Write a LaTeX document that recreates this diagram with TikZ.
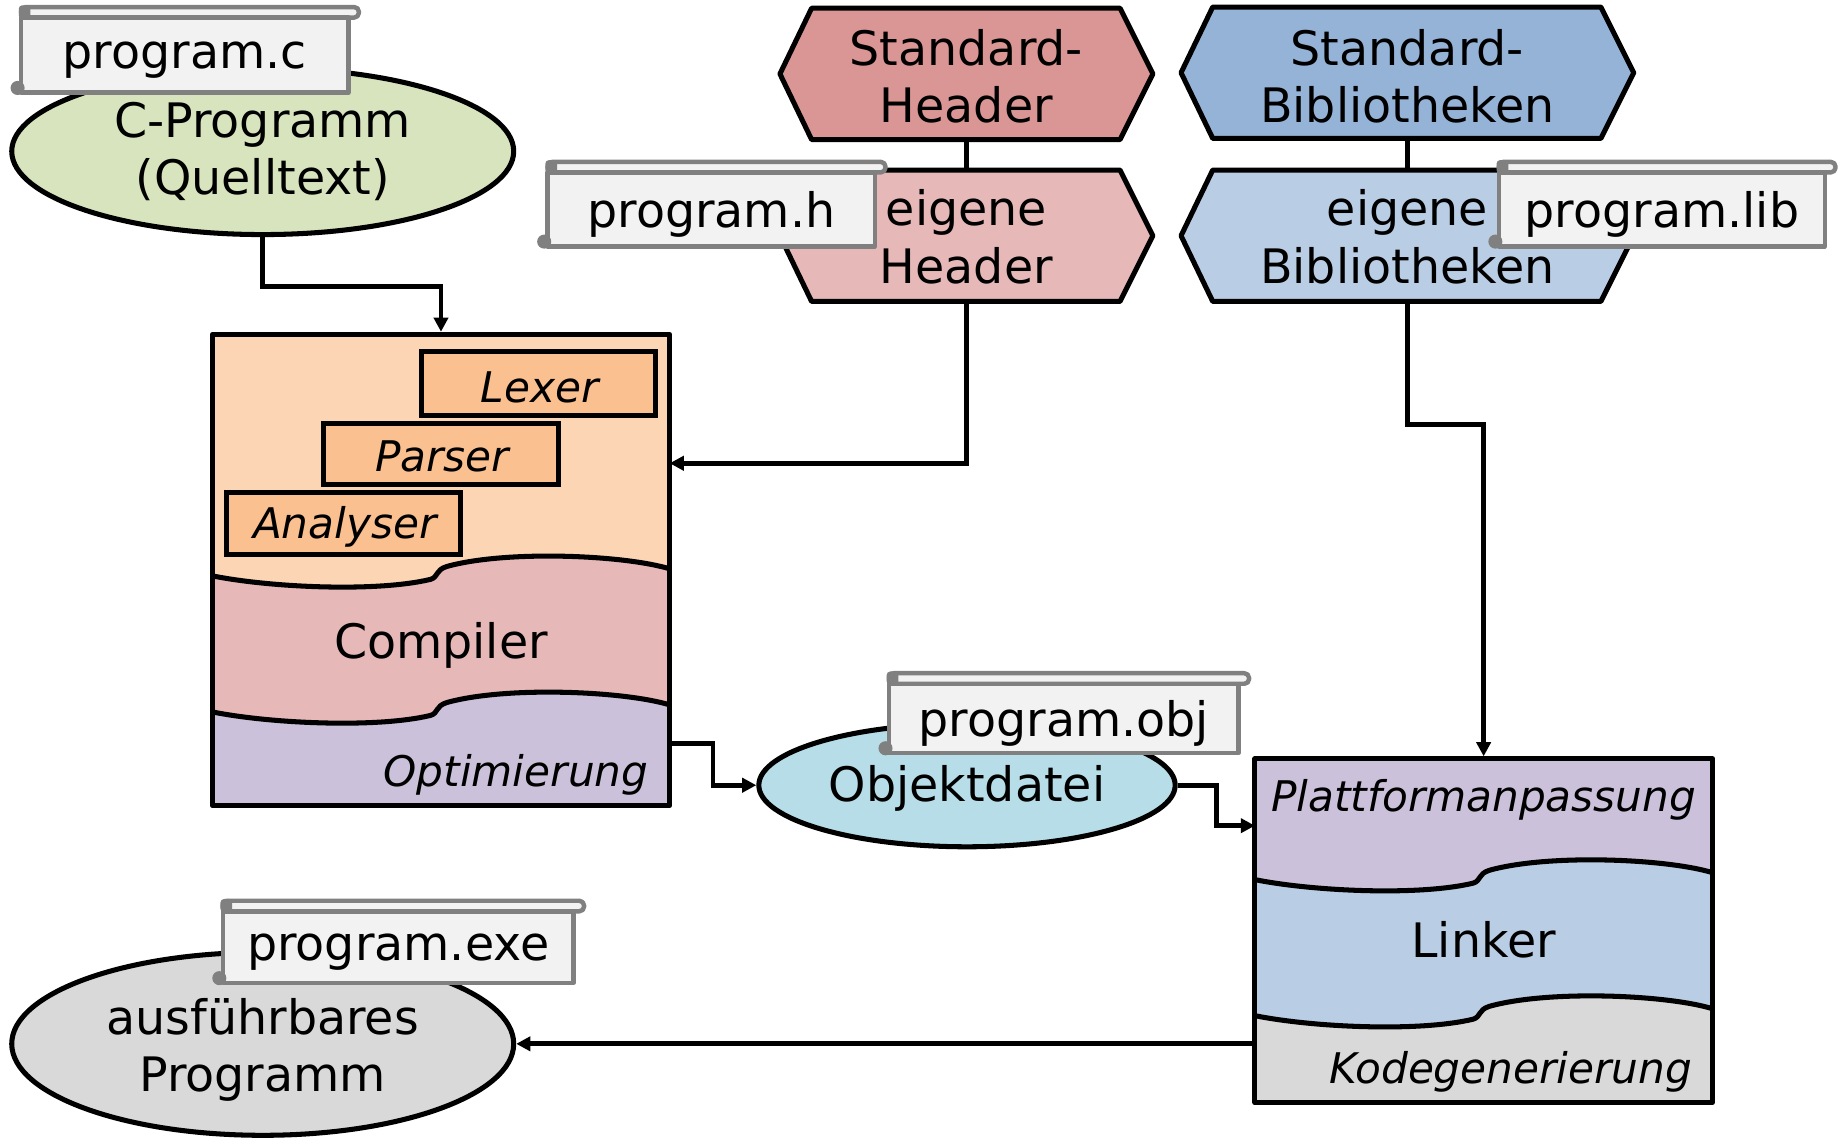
\documentclass[tikz,border=0pt]{standalone}
\usepackage{fontspec}
\setmainfont{DejaVu Sans}
\usetikzlibrary{arrows.meta,shapes.geometric,calc}
\definecolor{cgreen}{HTML}{D7E4BD}
\definecolor{shred}{HTML}{D99694}
\definecolor{ehred}{HTML}{E6B9B8}
\definecolor{sbblue}{HTML}{95B3D7}
\definecolor{ebblue}{HTML}{B9CDE5}
\definecolor{peach}{HTML}{FCD5B5}
\definecolor{boxor}{HTML}{FAC090}
\definecolor{lilac}{HTML}{CCC1DA}
\definecolor{objblue}{HTML}{B7DEE8}
\definecolor{lgray}{HTML}{D9D9D9}
\definecolor{tagbg}{HTML}{F2F2F2}
\definecolor{taggray}{HTML}{808080}
\begin{document}
\begin{tikzpicture}[x=1pt,y=-1pt,
  every node/.style={font=\fontsize{40.5}{49}\selectfont, inner sep=0pt},
  blk/.style={line width=4.3pt, line join=round},
  arr/.style={line width=4pt, -{Triangle[length=12pt,width=12pt]}},
  conn/.style={line width=4pt},
  ell/.style={ellipse, draw, line width=4.3pt, align=center},
  lbl/.style={font=\fontsize{36}{44}\selectfont\itshape},
  subbox/.style={draw, line width=4.3pt, fill=boxor, font=\fontsize{36}{44}\selectfont\itshape, minimum width=200pt},
  tagline/.style={draw=taggray, line width=3.8pt, line join=round},
  wavy/.style n args={2}{insert path={-- (#1,#2+18) .. controls (#1+50,#2+28) and (#1+140,#2+32) .. (#1+186,#2+21) .. controls (#1+193,#2+19) and (#1+190,#2+13) .. (#1+200,#2+10) .. controls (#1+250,#2-4) and (#1+350,#2) .. (#1+390,#2+12)}},
]
\useasboundingbox (0,0) rectangle (1568,971);

% ---------- file tags macro
\newcommand\filetag[6]{%
  \draw[tagline, fill=tagbg, rounded corners=4pt] (#2,#3-9) rectangle (#4+9,#3);
  \fill[taggray, rounded corners=3pt] (#2-2,#3-10.5) rectangle (#2+8,#3+1);
  \draw[tagline, fill=tagbg] (#2,#3) rectangle (#4,#5);
  \fill[taggray] (#2-3,#5-4) circle (6);
  \node (#1) at ({(#2+#4)/2},{(#3+#5)/2+4}) {#6};
}

% ---------- Standard / eigene Header
\draw[blk, fill=shred] (665,63) -- (692,7) -- (955,7) -- (983,63) -- (955,119) -- (692,119) -- cycle;
\node[align=center] (sh) at (824,65) {Standard-\\Header};
\coordinate (shb) at (824,119);
\draw[blk, fill=ehred] (665,201) -- (692,145) -- (955,145) -- (983,201) -- (955,257) -- (692,257) -- cycle;
\node[align=center] (eh) at (824,202) {eigene\\Header};
\coordinate (eht) at (824,145);
\coordinate (ehb) at (824,257);
\draw[conn] (shb) -- (eht);

% ---------- Standard / eigene Bibliotheken
\draw[blk, fill=sbblue] (1007,62) -- (1034,6) -- (1365,6) -- (1393,62) -- (1365,118) -- (1034,118) -- cycle;
\node[align=center] (sb) at (1200,65) {Standard-\\Bibliotheken};
\coordinate (sbb) at (1200,118);
\draw[blk, fill=ebblue] (1007,201) -- (1034,145) -- (1365,145) -- (1393,201) -- (1365,257) -- (1034,257) -- cycle;
\node[align=center] (eb) at (1200,202) {eigene\\Bibliotheken};
\coordinate (ebt) at (1200,145);
\coordinate (ebb) at (1200,257);
\draw[conn] (sbb) -- (ebt);

% ---------- C-Programm
\node[ell, fill=cgreen, minimum width=428pt, minimum height=142pt] (cp) at (224,129) {C-Programm\\(Quelltext)};

% ---------- Compiler block
\fill[lilac] (181,285) rectangle (571,687);
\fill[ehred] (181,285) [wavy={181}{589}] -- (571,285) -- cycle;
\fill[peach] (181,285) [wavy={181}{473}] -- (571,285) -- cycle;
\draw[blk] (181,491) [wavy={181}{473}];
\draw[blk] (181,607) [wavy={181}{589}];
\node[draw, blk, minimum width=390pt, minimum height=402pt] (compiler) at (376,486) {};
\node[subbox, minimum height=54pt] (lexer) at (459,327) {};
\node[lbl] at (460,330) {Lexer};
\node[subbox, minimum height=52pt] (parser) at (376,387) {};
\node[lbl] at (377,389) {Parser};
\node[subbox, minimum height=53pt] (analyser) at (293,446.5) {};
\node[lbl] at (294,449) {Analyser};
\node (complbl) at (376,550) {Compiler};
\node[lbl, anchor=east] (opt) at (553,661) {Optimierung};
\coordinate (cin) at (571,395);
\coordinate (cout) at (571,634);

% ---------- Objektdatei
\node[ell, fill=objblue, minimum width=355pt, minimum height=105pt] (obj) at (824.5,669.5) {};
\node (objlbl) at (824.5,672) {Objektdatei};

% ---------- Linker block
\fill[lgray] (1070,647) rectangle (1460,940);
\fill[ebblue] (1070,647) [wavy={1070}{848}] -- (1460,647) -- cycle;
\fill[lilac] (1070,647) [wavy={1070}{732}] -- (1460,647) -- cycle;
\draw[blk] (1070,750) [wavy={1070}{732}];
\draw[blk] (1070,866) [wavy={1070}{848}];
\node[draw, blk, minimum width=390pt, minimum height=293pt] (linker) at (1265,793.5) {};
\node[lbl] (plat) at (1265,682) {Plattformanpassung};
\node (lnklbl) at (1265,801) {Linker};
\node[lbl, anchor=east] (kode) at (1443,914) {Kodegenerierung};
\coordinate (lin) at (1070,704);
\coordinate (lout) at (1070,890);

% ---------- ausfuehrbares Programm
\node[ell, fill=lgray, minimum width=428pt, minimum height=156pt] (exe) at (224,890) {};
\node[align=center] (exelbl) at (224,895) {ausführbares\\Programm};

% ---------- connectors
\draw[arr] (cp.south) -- ++(0,42) -| (compiler.north);
\draw[arr] (ehb) |- (cin);
\draw[arr] (ebb) -- ++(0,105) -| (linker.north);
\draw[arr] (cout) -- ++(37,0) |- (obj.west);
\draw[arr] (obj.east) -- ++(33,0) |- (lin);
\draw[arr] (lout) -- (exe.east);

% ---------- file tags
\filetag{tagc}{18}{15}{297}{79}{program.c}
\filetag{tagh}{467}{147}{746}{210}{program.h}
\filetag{taglib}{1278}{147}{1556}{210}{program.lib}
\filetag{tagobj}{758}{583}{1056}{642}{program.obj}
\filetag{tagexe}{190}{777}{489}{838}{program.exe}
\end{tikzpicture}
\end{document}
